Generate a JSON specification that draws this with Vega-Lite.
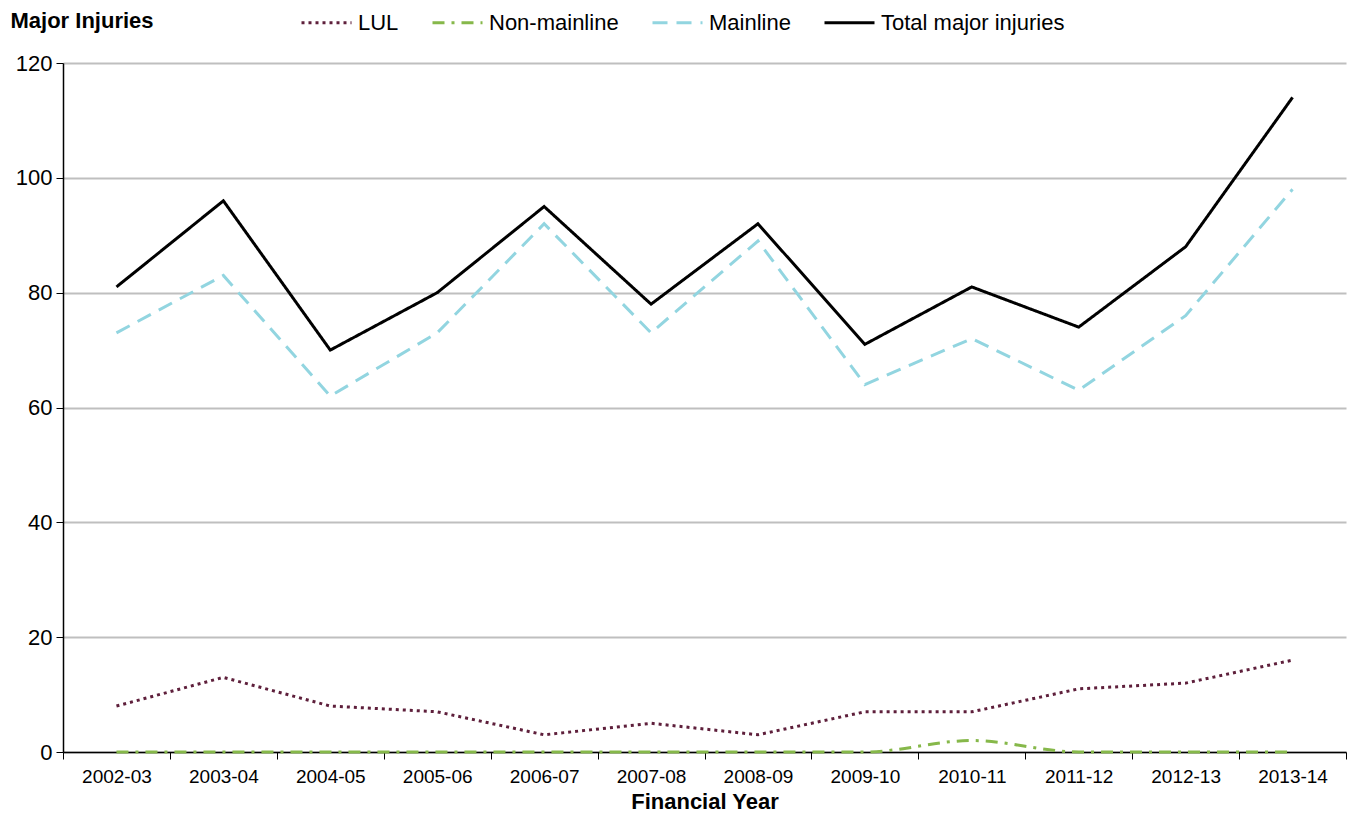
{
  "$schema": "https://vega.github.io/schema/vega-lite/v6.json",
  "width": 1283,
  "height": 689,
  "autosize": {"type": "none"},
  "padding": {"left": 63, "top": 63, "right": 6, "bottom": 70},
  "background": "white",
  "config": {
    "font": "Liberation Sans",
    "view": {"stroke": null}
  },
  "data": {
    "values": [
      {"year": "2002-03", "series": "LUL", "value": 8},
      {"year": "2003-04", "series": "LUL", "value": 13},
      {"year": "2004-05", "series": "LUL", "value": 8},
      {"year": "2005-06", "series": "LUL", "value": 7},
      {"year": "2006-07", "series": "LUL", "value": 3},
      {"year": "2007-08", "series": "LUL", "value": 5},
      {"year": "2008-09", "series": "LUL", "value": 3},
      {"year": "2009-10", "series": "LUL", "value": 7},
      {"year": "2010-11", "series": "LUL", "value": 7},
      {"year": "2011-12", "series": "LUL", "value": 11},
      {"year": "2012-13", "series": "LUL", "value": 12},
      {"year": "2013-14", "series": "LUL", "value": 16},
      {"year": "2002-03", "series": "Non-mainline", "value": 0},
      {"year": "2003-04", "series": "Non-mainline", "value": 0},
      {"year": "2004-05", "series": "Non-mainline", "value": 0},
      {"year": "2005-06", "series": "Non-mainline", "value": 0},
      {"year": "2006-07", "series": "Non-mainline", "value": 0},
      {"year": "2007-08", "series": "Non-mainline", "value": 0},
      {"year": "2008-09", "series": "Non-mainline", "value": 0},
      {"year": "2009-10", "series": "Non-mainline", "value": 0},
      {"year": "2010-11", "series": "Non-mainline", "value": 2},
      {"year": "2011-12", "series": "Non-mainline", "value": 0},
      {"year": "2012-13", "series": "Non-mainline", "value": 0},
      {"year": "2013-14", "series": "Non-mainline", "value": 0},
      {"year": "2002-03", "series": "Mainline", "value": 73},
      {"year": "2003-04", "series": "Mainline", "value": 83},
      {"year": "2004-05", "series": "Mainline", "value": 62},
      {"year": "2005-06", "series": "Mainline", "value": 73},
      {"year": "2006-07", "series": "Mainline", "value": 92},
      {"year": "2007-08", "series": "Mainline", "value": 73},
      {"year": "2008-09", "series": "Mainline", "value": 89},
      {"year": "2009-10", "series": "Mainline", "value": 64},
      {"year": "2010-11", "series": "Mainline", "value": 72},
      {"year": "2011-12", "series": "Mainline", "value": 63},
      {"year": "2012-13", "series": "Mainline", "value": 76},
      {"year": "2013-14", "series": "Mainline", "value": 98},
      {"year": "2002-03", "series": "Total major injuries", "value": 81},
      {"year": "2003-04", "series": "Total major injuries", "value": 96},
      {"year": "2004-05", "series": "Total major injuries", "value": 70},
      {"year": "2005-06", "series": "Total major injuries", "value": 80},
      {"year": "2006-07", "series": "Total major injuries", "value": 95},
      {"year": "2007-08", "series": "Total major injuries", "value": 78},
      {"year": "2008-09", "series": "Total major injuries", "value": 92},
      {"year": "2009-10", "series": "Total major injuries", "value": 71},
      {"year": "2010-11", "series": "Total major injuries", "value": 81},
      {"year": "2011-12", "series": "Total major injuries", "value": 74},
      {"year": "2012-13", "series": "Total major injuries", "value": 88},
      {"year": "2013-14", "series": "Total major injuries", "value": 114}
    ]
  },
  "encoding": {
    "x": {
      "field": "year",
      "type": "ordinal",
      "bandPosition": 0.5,
      "scale": {"type": "band", "paddingInner": 0, "paddingOuter": 0},
      "axis": {
        "title": "Financial Year",
        "titleFontSize": 22,
        "titleFontWeight": "bold",
        "titleColor": "black",
        "titlePadding": 5,
        "labelFontSize": 19,
        "labelColor": "black",
        "labelAngle": 0,
        "labelPadding": 8,
        "tickBand": "extent",
        "tickSize": 7,
        "tickColor": "black",
        "domainColor": "black",
        "domainWidth": 1.5,
        "grid": false
      }
    },
    "y": {
      "field": "value",
      "type": "quantitative",
      "scale": {"domain": [0, 120], "nice": false},
      "axis": {
        "values": [0, 20, 40, 60, 80, 100, 120],
        "title": "Major Injuries",
        "titleAngle": 0,
        "titleAlign": "left",
        "titleBaseline": "alphabetic",
        "titleX": -53,
        "titleY": -36,
        "titleFontSize": 22,
        "titleFontWeight": "bold",
        "titleColor": "black",
        "labelFontSize": 22,
        "labelColor": "black",
        "labelPadding": 4,
        "tickSize": 7,
        "tickColor": "black",
        "domainColor": "black",
        "domainWidth": 1.5,
        "grid": true,
        "gridColor": "#BFBFBF",
        "gridWidth": 2
      }
    },
    "color": {
      "field": "series",
      "type": "nominal",
      "scale": {
        "domain": ["LUL", "Non-mainline", "Mainline", "Total major injuries"],
        "range": ["#5E1F3B", "#86B84A", "#92D5E0", "#000000"]
      },
      "legend": {
        "title": null,
        "orient": "none",
        "direction": "horizontal",
        "legendX": 237,
        "legendY": -67,
        "symbolType": "stroke",
        "symbolSize": 2500,
        "symbolStrokeWidth": 3,
        "labelFontSize": 22,
        "labelColor": "black",
        "labelLimit": 400,
        "labelOffset": 5,
        "columnPadding": 27
      }
    },
    "strokeDash": {
      "field": "series",
      "type": "nominal",
      "scale": {
        "domain": ["LUL", "Non-mainline", "Mainline", "Total major injuries"],
        "range": [[3, 4], [12, 7, 3, 7], [15, 9], [1, 0]]
      },
      "legend": {
        "title": null,
        "orient": "none",
        "direction": "horizontal",
        "legendX": 237,
        "legendY": -67,
        "symbolType": "stroke",
        "symbolSize": 2500,
        "symbolStrokeWidth": 3,
        "labelFontSize": 22,
        "labelColor": "black",
        "labelLimit": 400,
        "labelOffset": 5,
        "columnPadding": 27
      }
    }
  },
  "layer": [
    {
      "transform": [{"filter": "datum.series == 'Non-mainline'"}],
      "mark": {"type": "line", "strokeWidth": 3, "interpolate": "monotone"}
    },
    {
      "transform": [{"filter": "datum.series != 'Non-mainline'"}],
      "mark": {"type": "line", "strokeWidth": 3}
    }
  ]
}
